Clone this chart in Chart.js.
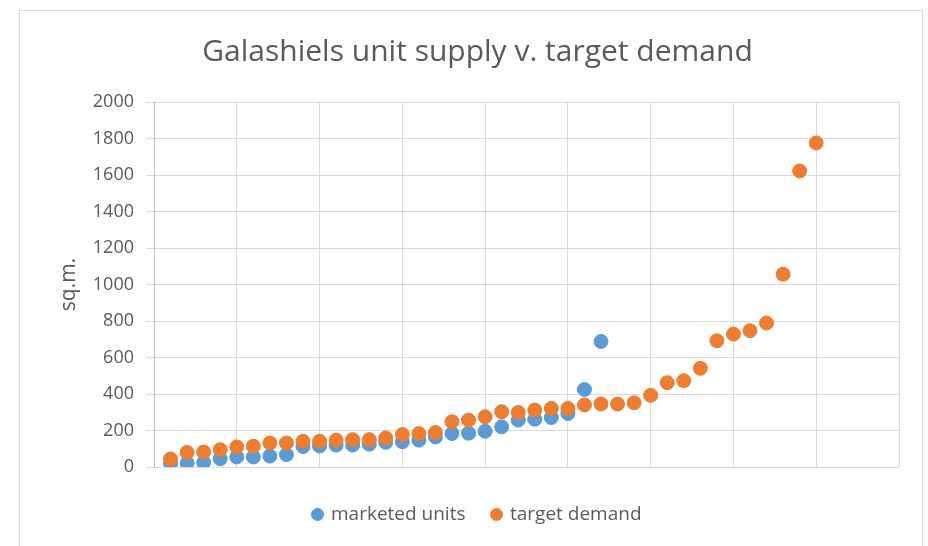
<!DOCTYPE html>
<html>
<head>
<meta charset="utf-8">
<script src="https://cdn.jsdelivr.net/npm/chart.js@4"></script>
<style>
  body { margin: 0; background: #ffffff; }
  #frame { position: absolute; left: 19px; top: 10px; width: 904px; height: 560px; border: 1px solid #d9d9d9; box-sizing: border-box; }
  #chart { position: absolute; left: 0; top: 0; }
</style>
</head>
<body>
<div id="frame"></div>
<canvas id="chart" width="928" height="546"></canvas>
<script>
// Data (x = rank, y = sq.m.)
const marketedUnits = [20, 22, 25, 45, 55, 55, 60, 68, 112, 115, 120, 120, 125, 135, 138,
                       147, 165, 183, 185, 196, 220, 257, 262, 271, 293, 425, 688];
const targetDemand = [44, 80, 82, 95, 110, 114, 132, 132, 141, 141, 147, 150, 150, 159, 178,
                      183, 189, 248, 257, 275, 303, 299, 312, 321, 321, 340, 345, 345, 352, 393,
                      462, 473, 541, 692, 728, 747, 789, 1056, 1622, 1776];
const yTicks = [0, 200, 400, 600, 800, 1000, 1200, 1400, 1600, 1800, 2000];

const toPoints = arr => arr.map((v, i) => ({x: i + 1, y: v}));

const grey = "#595959";
const gridColor = "#d9d9d9";
const font = "'Open Sans', 'Liberation Sans', sans-serif";

const chart = new Chart(document.getElementById("chart"), {
    type: "scatter",
    data: {
        datasets: [
            {
                label: "marketed units",
                data: toPoints(marketedUnits),
                backgroundColor: "#5b9bd5",
                borderColor: "#5b9bd5",
                pointRadius: 7,
                order: 1
            },
            {
                label: "target demand",
                data: toPoints(targetDemand),
                backgroundColor: "#ed7d31",
                borderColor: "#ed7d31",
                pointRadius: 7,
                order: 0
            }
        ]
    },
    options: {
        responsive: false,
        animation: false,
        layout: { padding: { left: 56, right: 29, top: 0, bottom: 12 } },
        plugins: {
            title: {
                display: true,
                text: "Galashiels unit supply v. target demand",
                color: grey,
                font: { family: font, size: 30, weight: "normal" },
                padding: { top: 34, bottom: 32 }
            },
            legend: {
                position: "bottom",
                labels: {
                    usePointStyle: true,
                    pointStyle: "circle",
                    boxWidth: 8,
                    boxHeight: 8.5,
                    color: grey,
                    font: { family: font, size: 19 },
                    padding: 27,
                    sort: (a, b) => a.datasetIndex - b.datasetIndex
                }
            },
            tooltip: { enabled: false }
        },
        scales: {
            x: {
                type: "linear",
                min: 0,
                max: 45,
                ticks: { display: false, stepSize: 5 },
                grid: { color: gridColor, drawTicks: false },
                border: { display: false },
                afterFit: s => { s.height = 11; }
            },
            y: {
                min: 0,
                max: 2000,
                afterBuildTicks: s => { s.ticks = yTicks.map(v => ({value: v})); },
                ticks: {
                    color: grey,
                    font: { family: font, size: 18 },
                    padding: 12,
                    callback: v => String(v)
                },
                grid: { color: gridColor, tickLength: 8 },
                border: { color: "#bfbfbf" },
                title: {
                    display: true,
                    text: "sq.m.",
                    color: grey,
                    font: { family: font, size: 21 },
                    padding: 0
                },
                afterFit: s => { s.width = 98; }
            }
        }
    }
});
</script>
</body>
</html>
